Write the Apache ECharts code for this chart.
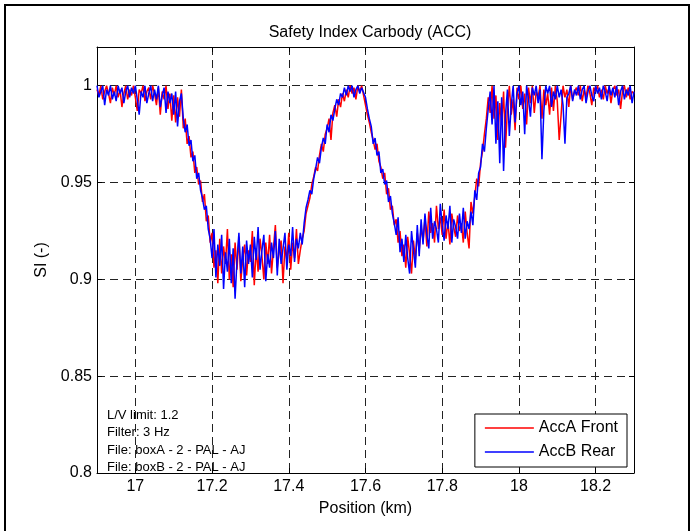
<!DOCTYPE html>
<html><head><meta charset="utf-8">
<script src="https://cdn.jsdelivr.net/npm/echarts@6/dist/echarts.min.js"></script>
<style>html,body{margin:0;padding:0;background:#fff}#c{width:694px;height:531px}</style>
</head><body><div id="c"></div>
<script>
const titleText = 'Safety Index Carbody (ACC)';
const xName = 'Position (km)';
const yName = 'SI (-)';
const seriesNames = ['AccA Front', 'AccB Rear'];
const xTicks = [17, 17.2, 17.4, 17.6, 17.8, 18, 18.2];
const yTicks = [0.8, 0.85, 0.9, 0.95, 1];
const notes = ['L/V limit: 1.2', 'Filter: 3 Hz', 'File: boxA - 2 - PAL - AJ', 'File: boxB - 2 - PAL - AJ'];
const posStart = 16.9, posStep = 0.005;
const accFront = [
0.998,0.995,1.000,0.993,0.997,1.000,0.996,0.991,0.999,0.995,
1.000,0.994,0.998,0.989,0.996,1.000,0.993,0.998,0.995,1.000,
0.994,0.987,0.998,0.996,1.000,0.992,0.997,0.999,0.993,1.000,
0.996,0.990,0.999,0.985,0.997,0.993,1.000,0.988,0.996,0.982,
0.995,0.981,0.994,0.984,0.998,0.978,0.983,0.970,0.974,0.963,
0.966,0.955,0.958,0.949,0.951,0.940,0.944,0.930,0.933,0.919,
0.924,0.906,0.915,0.898,0.921,0.903,0.917,0.908,0.926,0.900,
0.913,0.896,0.919,0.905,0.922,0.899,0.911,0.918,0.902,0.915,
0.909,0.925,0.897,0.916,0.904,0.921,0.912,0.900,0.919,0.908,
0.923,0.903,0.916,0.928,0.906,0.914,0.920,0.898,0.917,0.910,
0.924,0.905,0.919,0.911,0.926,0.908,0.915,0.921,0.925,0.934,
0.938,0.942,0.949,0.953,0.958,0.956,0.964,0.970,0.966,0.975,
0.978,0.983,0.972,0.986,0.990,0.984,0.993,0.989,0.996,0.992,
0.998,0.994,1.000,0.996,0.999,0.993,1.000,0.997,1.000,0.995,
0.990,0.985,0.981,0.976,0.972,0.967,0.970,0.961,0.958,0.952,
0.955,0.944,0.947,0.936,0.938,0.928,0.931,0.919,0.925,0.912,
0.918,0.906,0.922,0.913,0.903,0.920,0.910,0.924,0.915,0.927,
0.920,0.931,0.917,0.935,0.924,0.929,0.919,0.938,0.926,0.932,
0.923,0.936,0.921,0.930,0.918,0.934,0.927,0.922,0.933,0.925,
0.929,0.919,0.935,0.924,0.916,0.940,0.934,0.943,0.952,0.948,
0.960,0.966,0.975,0.983,0.994,0.986,1.000,0.983,0.995,0.972,
0.991,0.980,0.997,0.968,0.988,1.000,0.985,0.993,0.977,0.999,
0.993,1.000,0.988,0.996,0.980,0.999,0.991,1.000,0.986,0.997,
0.994,1.000,0.983,0.998,0.990,0.996,0.985,0.999,0.987,1.000,
0.992,0.972,0.985,1.000,0.994,0.998,0.989,1.000,0.993,0.997,
0.999,0.995,1.000,0.992,0.998,0.994,1.000,0.996,0.990,0.999,
0.997,1.000,0.994,0.998,0.993,1.000,0.996,0.999,0.991,0.998,
1.000,0.995,0.998,0.988,0.997,1.000,0.994,0.999,0.993,0.997,
0.996];
const accRear = [
1.000,0.994,0.997,1.000,0.990,0.998,0.995,1.000,0.993,0.997,
0.992,1.000,0.996,0.999,0.991,0.997,1.000,0.994,0.999,0.996,
1.000,0.993,0.985,0.997,0.994,1.000,0.991,0.996,1.000,0.992,
0.998,0.993,1.000,0.989,0.995,0.999,0.986,0.997,0.991,0.996,
0.985,0.997,0.979,0.992,0.996,0.983,0.976,0.980,0.969,0.972,
0.961,0.964,0.952,0.955,0.946,0.942,0.936,0.938,0.926,0.921,
0.911,0.926,0.901,0.918,0.907,0.923,0.895,0.914,0.904,0.921,
0.898,0.916,0.890,0.910,0.924,0.903,0.917,0.896,0.920,0.908,
0.918,0.901,0.922,0.910,0.927,0.905,0.915,0.923,0.899,0.913,
0.906,0.919,0.911,0.925,0.902,0.921,0.908,0.916,0.924,0.905,
0.918,0.912,0.927,0.909,0.921,0.916,0.924,0.918,0.929,0.937,
0.941,0.946,0.944,0.952,0.957,0.963,0.960,0.968,0.973,0.970,
0.980,0.976,0.985,0.982,0.988,0.993,0.990,0.996,0.994,0.999,
0.995,1.000,0.997,1.000,0.994,0.998,1.000,0.996,0.999,1.000,
0.994,0.988,0.983,0.979,0.970,0.973,0.964,0.966,0.955,0.957,
0.949,0.951,0.940,0.943,0.934,0.929,0.923,0.932,0.914,0.921,
0.909,0.923,0.911,0.903,0.925,0.915,0.906,0.928,0.912,0.931,
0.918,0.934,0.923,0.916,0.937,0.921,0.930,0.926,0.919,0.939,
0.928,0.920,0.933,0.926,0.938,0.919,0.931,0.927,0.921,0.934,
0.924,0.937,0.921,0.930,0.926,0.935,0.928,0.946,0.941,0.955,
0.958,0.970,0.966,0.978,0.988,0.997,0.980,1.000,0.970,0.992,
0.960,0.994,0.956,0.985,0.998,0.974,0.990,1.000,0.981,0.996,
1.000,0.990,0.997,0.975,1.000,0.993,0.984,0.999,0.995,1.000,
0.991,0.998,0.962,0.987,1.000,0.996,1.000,0.989,0.997,0.993,
1.000,0.994,0.998,0.990,0.970,0.994,0.996,1.000,0.992,0.998,
0.995,1.000,0.993,0.998,1.000,0.991,0.997,1.000,0.995,0.992,
1.000,0.996,0.999,0.993,1.000,0.997,0.992,1.000,0.995,0.999,
0.994,1.000,0.990,0.997,1.000,0.993,0.998,0.995,1.000,0.991,
0.997];

const FONT = 'Liberation Sans, Arial, sans-serif';
function toPairs(arr) { return arr.map((v, i) => [+(posStart + i * posStep).toFixed(4), v]); }

const chart = echarts.init(document.getElementById('c'), null, { renderer: 'canvas' });
const gridLine = { show: true, lineStyle: { color: '#222', width: 1, type: [8, 5] } };
const axisLine = { show: true, onZero: false, lineStyle: { color: '#000', width: 1 } };
const tick = { show: true, inside: true, length: 5, lineStyle: { color: '#000' } };
const lblStyle = { color: '#000', fontSize: 16, fontFamily: FONT };

const option = {
  animation: false,
  backgroundColor: '#fff',
  title: { text: titleText, left: 365, textAlign: 'center', top: 20,
    textStyle: { fontSize: 16, fontWeight: 'normal', color: '#000', fontFamily: FONT } },
  grid: { left: 97, right: 60, top: 47, bottom: 58, show: false, containLabel: false },
  legend: {
    orient: 'vertical', right: 67, top: 414, data: seriesNames,
    icon: 'rect',
    backgroundColor: '#fff', borderColor: '#000', borderWidth: 1,
    padding: [6, 9, 7, 10], itemWidth: 49, itemHeight: 1.4, itemGap: 8,
    textStyle: { fontSize: 16, color: '#000', fontFamily: FONT, lineHeight: 16 }
  },
  xAxis: [{
    type: 'value', min: 16.9, max: 18.3, splitNumber: 7,
    name: xName, nameLocation: 'middle', nameGap: 28,
    nameTextStyle: lblStyle,
    axisLine: axisLine, axisTick: tick,
    axisLabel: Object.assign({ margin: 6, showMinLabel: false, showMaxLabel: false }, lblStyle),
    splitLine: gridLine
  }, {
    type: 'value', min: 16.9, max: 18.3, splitNumber: 7, position: 'top',
    axisLine: axisLine, axisTick: tick, axisLabel: { show: false }, splitLine: { show: false }
  }],
  yAxis: [{
    type: 'value', min: 0.8, max: 1.02, interval: 0.05,
    name: yName, nameLocation: 'middle', nameGap: 41, nameRotate: 90,
    nameTextStyle: lblStyle,
    axisLine: axisLine, axisTick: tick,
    axisLabel: Object.assign({ margin: 5, showMaxLabel: false }, lblStyle),
    splitLine: gridLine
  }, {
    type: 'value', min: 0.8, max: 1.02, interval: 0.05, position: 'right',
    axisLine: axisLine, axisTick: tick, axisLabel: { show: false }, splitLine: { show: false }
  }],
  graphic: [
    { type: 'rect', shape: { x: 5, y: 5, width: 684, height: 560 }, style: { fill: 'none', stroke: '#000', lineWidth: 2 }, silent: true, z: 100 }
  ].concat(notes.map((t, i) => ({
    type: 'text', left: 107, top: 409 + i * 17.3, silent: true, z: 50,
    style: { text: t, fill: '#000', font: '13px ' + FONT }
  }))),
  series: [
    { name: seriesNames[0], type: 'line', data: toPairs(accFront), symbol: 'none', showSymbol: false,
      lineStyle: { color: '#ff0000', width: 1.5 }, itemStyle: { color: '#ff0000' }, z: 3 },
    { name: seriesNames[1], type: 'line', data: toPairs(accRear), symbol: 'none', showSymbol: false,
      lineStyle: { color: '#0000ff', width: 1.5 }, itemStyle: { color: '#0000ff' }, z: 4 }
  ]
};
chart.setOption(option);
</script>
</body></html>
